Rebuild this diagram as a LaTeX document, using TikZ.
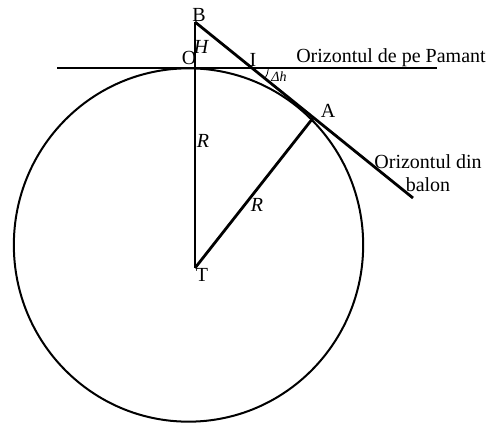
\documentclass[tikz,border=0pt]{standalone}
\usepackage{fontspec}
\setmainfont{Liberation Serif}
\usetikzlibrary{positioning}

\begin{document}
\begin{tikzpicture}[x=0.75pt, y=-0.75pt,
  geomline/.style={line width=2.1pt, black},
  earthrim/.style={line width=1.5pt, black},
  lbl/.style={font=\fontsize{15}{17}\selectfont, inner sep=0pt},
  varlbl/.style={font=\fontsize{15}{17}\selectfont\itshape, inner sep=0pt},
  anglbl/.style={font=\fontsize{10.5}{12}\selectfont\itshape, inner sep=0pt}
]
\useasboundingbox (0,0) rectangle (488,424);

% points of the figure
\coordinate (B) at (195,22);
\coordinate (O) at (195,68);
\coordinate (T) at (195,268);
\coordinate (A) at (313,118);
\coordinate (I) at (251,68);
\coordinate (hleft) at (57,68);
\coordinate (hright) at (437,68);
\coordinate (tanend) at (413,198);

% the Earth
\draw[earthrim] (188.5,245) ellipse [x radius=131pt, y radius=132.5pt];

% horizons and radii
\draw[geomline] (hleft) -- (hright);
\draw[geomline] (B) -- (T);
\draw[geomline] (B) -- (tanend);
\draw[geomline] (T) -- (A);

% angle between the two horizons
\draw[line width=0.6pt] ([shift={(-4:13pt)}]I) arc[start angle=-4, end angle=-37, radius=13pt];

% labels
\node[lbl] (labB) at (199,15) {B};
\node[varlbl] (labH) at (201,47) {H};
\node[lbl] (labO) at (189,58) {O};
\node[lbl] (labI) at (253,60) {I};
\node[anglbl] (labdh) at (279,77) {Δh};
\node[lbl, anchor=west] (labearth) at (296,58) {Orizontul de pe Pamant};
\node[lbl] (labA) at (328,111) {A};
\node[lbl, align=center] (labballoon) at (428,173) {Orizontul din\\balon};
\node[varlbl] (labR1) at (203,141) {R};
\node[varlbl] (labR2) at (257,205) {R};
\node[lbl] (labT) at (202,275) {T};
\end{tikzpicture}
\end{document}
